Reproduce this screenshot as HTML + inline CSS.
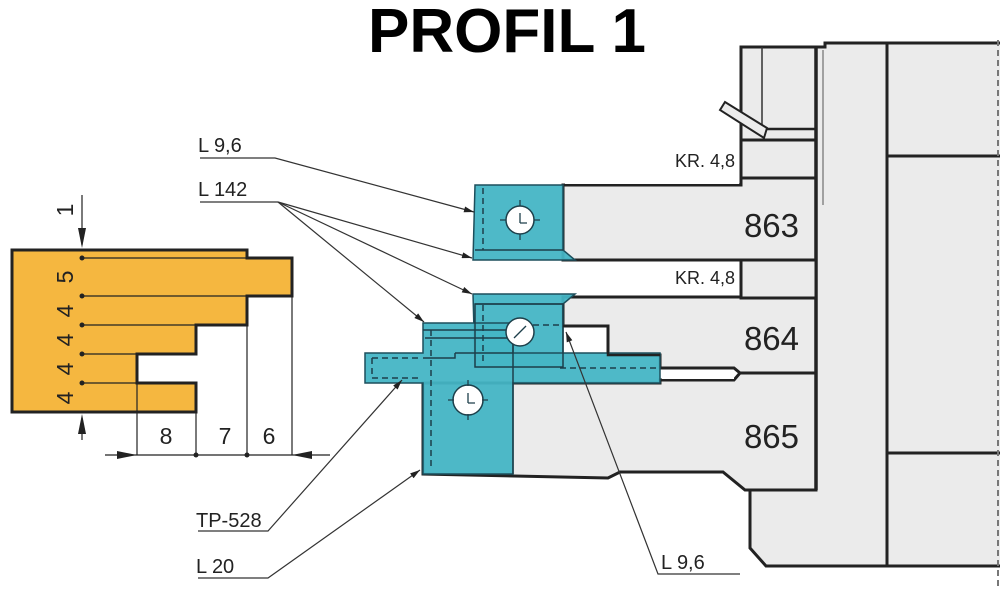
<!DOCTYPE html>
<html><head><meta charset="utf-8"><style>
html,body{margin:0;padding:0;background:#fff;width:1000px;height:589px;overflow:hidden}
svg{display:block}
text{font-family:"Liberation Sans",sans-serif;fill:#222}
</style></head><body>
<svg width="1000" height="589" viewBox="0 0 1000 589" xmlns="http://www.w3.org/2000/svg">
<defs>
<marker id="ar" viewBox="0 0 10 6" refX="10" refY="3" markerWidth="12" markerHeight="6" orient="auto" markerUnits="userSpaceOnUse"><path d="M0,0 L10,3 L0,6 Z" fill="#222"/></marker>
</defs>
<text x="507" y="52" text-anchor="middle" font-size="62" font-weight="bold" style="fill:#000">PROFIL 1</text>

<!-- right machine body -->
<g stroke="#222" stroke-width="3" fill="#ebebeb">
<path d="M816,47 L825,47 L825,43 L1005,43 L1005,566 L766,566 L750,548 L750,490 L816,490 Z"/>
<rect x="741" y="47" width="75" height="93"/>
<rect x="741" y="140" width="75" height="45"/>
<!-- 863 -->
<path d="M563,185 L741,185 L741,178 L816,178 L816,260 L741,260 L563,260 Z"/>
<!-- 864 -->
<path d="M563,297 L816,297 L816,373 L740,373 L734,368 L660,368 L660,355 L608,355 L608,326 L563,326 Z"/>
<!-- 865 -->
<path d="M513,383 L660,383 L660,380 L734,380 L740,373 L816,373 L816,490 L745,490 L723,472 L620,472 L608,478 L423,474 L423,383 Z"/>
</g>
<rect x="662" y="370" width="72" height="9" fill="#fff"/>
<path d="M887,43 V566 M887,156 H1000 M887,453 H1000" stroke="#222" stroke-width="3" fill="none"/>
<line x1="816" y1="47" x2="816" y2="490" stroke="#222" stroke-width="3.5"/>
<line x1="823" y1="50" x2="823" y2="205" stroke="#555" stroke-width="1"/>
<line x1="762" y1="47" x2="762" y2="129" stroke="#333" stroke-width="1.5"/>
<line x1="764" y1="129" x2="816" y2="129" stroke="#222" stroke-width="2.5"/>
<path d="M720,110 L725,102 L767,128 L764,138 Z" fill="#ebebeb" stroke="#222" stroke-width="2"/>
<rect x="741" y="260" width="75" height="38" fill="#ebebeb" stroke="#222" stroke-width="3"/>
<rect x="565" y="260" width="174" height="36" fill="#fff"/>
<line x1="563" y1="260" x2="741" y2="260" stroke="#222" stroke-width="3"/>
<line x1="563" y1="297" x2="741" y2="297" stroke="#222" stroke-width="3"/>
<rect x="565" y="141" width="174" height="43" fill="#fff"/>
<line x1="998" y1="40" x2="998" y2="589" stroke="#777" stroke-width="2" stroke-dasharray="6,4"/>
<text x="735" y="167" text-anchor="end" font-size="18">KR. 4,8</text>
<text x="735" y="284" text-anchor="end" font-size="18">KR. 4,8</text>
<text x="799" y="237" text-anchor="end" font-size="33">863</text>
<text x="799" y="350" text-anchor="end" font-size="33">864</text>
<text x="799" y="448" text-anchor="end" font-size="33">865</text>

<!-- cyan inserts -->
<g fill="#45b5c5" fill-opacity="0.95" stroke="#1d4f5c" stroke-width="1.5">
<path d="M475,185 L563,185 L563,250 L575,260 L473,260 Z"/>
<path d="M473,294 L575,294 L563,304 L563,367 L475,367 Z"/>
<path d="M365,353 L423,353 L423,323 L513,323 L513,353 L660,353 L660,383 L513,383 L513,474 L423,474 L423,383 L365,383 Z"/>
</g>
<g stroke="#1d3f4a" stroke-width="1.5" fill="none">
<path d="M475,250 L563,250"/><path d="M475,304 L563,304"/>
<path d="M423,330 L513,330 M425,338 L513,338"/>
<path d="M423,358 L455,358 L455,353 M455,353 L513,353"/>
<rect x="475" y="304" width="88" height="63"/>
<path d="M563,326 L608,326 L608,355 L660,355" stroke="#222" stroke-width="2.5"/>
<path d="M513,323 L513,474" />
</g>
<g stroke="#1d3f4a" stroke-width="1.5" stroke-dasharray="6,4" fill="none">
<line x1="483" y1="188" x2="483" y2="250"/>
<line x1="483" y1="305" x2="483" y2="365"/>
<line x1="431" y1="330" x2="431" y2="470"/>
<path d="M372,358 L372,378 L420,378 M372,358 L420,358"/>
<line x1="523" y1="325" x2="560" y2="325"/>
<line x1="560" y1="368" x2="658" y2="368"/>
</g>
<g fill="#fff" stroke="#1d3f4a" stroke-width="1.5">
<circle cx="520" cy="220" r="14"/><circle cx="520" cy="332" r="14"/><circle cx="468" cy="400" r="15"/>
</g>
<g stroke="#1d3f4a" stroke-width="1.3">
<path d="M520,223 V213 M520,223 H527"/><path d="M468,403 V393 M468,403 H475"/><path d="M514,338 L526,326"/>
<path d="M500,220 h6 M534,220 h6 M520,200 v6 M520,234 v6"/>
<path d="M448,400 h6 M482,400 h6 M468,380 v6 M468,414 v6"/>
</g>

<!-- leaders -->
<g stroke="#333" stroke-width="1.2" fill="none">
<path d="M200,158 H275 L474,212" marker-end="url(#ar)"/>
<path d="M200,202 H278"/>
<path d="M278,202 L472,258" marker-end="url(#ar)"/>
<path d="M278,202 L472,294" marker-end="url(#ar)"/>
<path d="M278,202 L424,322" marker-end="url(#ar)"/>
<path d="M198,531 H268 L402,380" marker-end="url(#ar)"/>
<path d="M198,578 H268 L420,470" marker-end="url(#ar)"/>
<path d="M740,574 H658 L566,332" marker-end="url(#ar)"/>
</g>
<text x="198" y="152" font-size="20">L 9,6</text>
<text x="198" y="196" font-size="20">L 142</text>
<text x="196" y="527" font-size="20">TP-528</text>
<text x="196" y="573" font-size="20">L 20</text>
<text x="661" y="569" font-size="20">L 9,6</text>

<!-- profile -->
<path d="M12,250 H247 V258 H292 V296 H247 V325 H196 V354 H137 V383 H196 V412 H12 Z" fill="#f5b740" stroke="#222" stroke-width="3"/>
<g stroke="#222" stroke-width="1.2">
<path d="M82,258 H247 M82,296 H247 M82,325 H196 M82,354 H137 M82,383 H137"/>
<path d="M137,383 V455 M196,412 V455 M247,296 V455 M292,296 V455"/>
<path d="M82,195 V245 M82,418 V440"/>
<path d="M105,455 H330"/>
</g>
<g fill="#222">
<path d="M82,248 L78,228 L86,228 Z"/><path d="M82,414 L78,434 L86,434 Z"/>
<path d="M137,455 L117,451 L117,459 Z"/><path d="M292,455 L312,451 L312,459 Z"/>
<circle cx="82" cy="258" r="2.5"/><circle cx="82" cy="296" r="2.5"/><circle cx="82" cy="325" r="2.5"/><circle cx="82" cy="354" r="2.5"/><circle cx="82" cy="383" r="2.5"/>
<circle cx="196" cy="455" r="2.5"/><circle cx="247" cy="455" r="2.5"/>
</g>
<g font-size="23">
<text transform="translate(73,210) rotate(-90)" text-anchor="middle">1</text>
<text transform="translate(73,277) rotate(-90)" text-anchor="middle">5</text>
<text transform="translate(73,311) rotate(-90)" text-anchor="middle">4</text>
<text transform="translate(73,340) rotate(-90)" text-anchor="middle">4</text>
<text transform="translate(73,369) rotate(-90)" text-anchor="middle">4</text>
<text transform="translate(73,398) rotate(-90)" text-anchor="middle">4</text>
<text x="166" y="444" text-anchor="middle">8</text>
<text x="225" y="444" text-anchor="middle">7</text>
<text x="269" y="444" text-anchor="middle">6</text>
</g>
</svg>
</body></html>
